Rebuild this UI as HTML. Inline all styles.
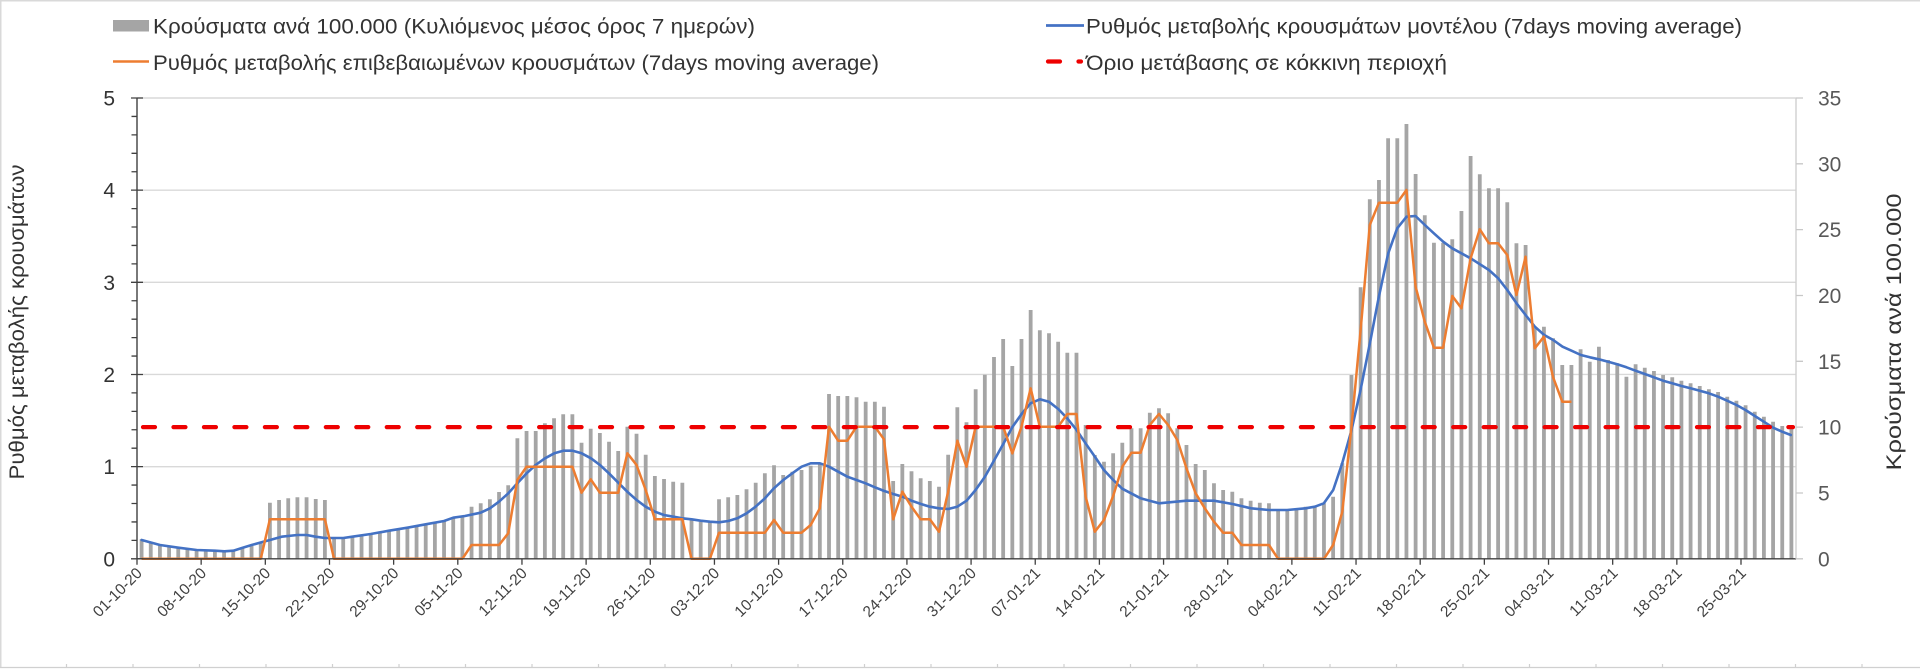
<!DOCTYPE html>
<html><head><meta charset="utf-8"><style>
html,body{margin:0;padding:0;background:#fff;width:1920px;height:670px;overflow:hidden}
svg{display:block}
</style></head><body>
<svg width="1920" height="670" viewBox="0 0 1920 670" xmlns="http://www.w3.org/2000/svg" font-family="'Liberation Sans', Arial, sans-serif">
<rect width="1920" height="670" fill="#fff"/>
<!-- frame -->
<path d="M0.75 0V668M0 0.75H1920" stroke="#d9d9d9" stroke-width="1.5" fill="none"/>
<path d="M0 667.5H1920M66.5 664v4M133 664v4M199.5 664v4M266 664v4M332.5 664v4M399 664v4M465.5 664v4M532 664v4M598.5 664v4M665 664v4M731.5 664v4M798 664v4M864.5 664v4M931 664v4M997.5 664v4M1064 664v4M1130.5 664v4M1197 664v4M1263.5 664v4M1330 664v4M1396.5 664v4M1463 664v4M1529.5 664v4M1596 664v4M1662.5 664v4M1729 664v4M1795.5 664v4M1862 664v4" stroke="#d0d0d0" stroke-width="1.2" fill="none"/>

<!-- gridlines -->
<path d="M137 98H1796M137 190.16H1796M137 282.32H1796M137 374.48H1796M137 466.64H1796" stroke="#d9d9d9" stroke-width="1.4" fill="none"/>

<!-- legend -->
<rect x="113" y="20" width="36" height="11.5" fill="#a5a5a5"/>
<text x="153" y="33.5" font-size="21" fill="#333" textLength="602" lengthAdjust="spacingAndGlyphs">Κρούσματα ανά 100.000 (Κυλιόμενος μέσος όρος 7 ημερών)</text>
<line x1="1046" y1="25.5" x2="1084" y2="25.5" stroke="#4472c4" stroke-width="2.75"/>
<text x="1086" y="33.5" font-size="21" fill="#333" textLength="656" lengthAdjust="spacingAndGlyphs">Ρυθμός μεταβολής κρουσμάτων μοντέλου (7days moving average)</text>
<line x1="113" y1="61.5" x2="149" y2="61.5" stroke="#ed7d31" stroke-width="2.5"/>
<text x="153" y="70" font-size="21" fill="#333" textLength="726" lengthAdjust="spacingAndGlyphs">Ρυθμός μεταβολής επιβεβαιωμένων κρουσμάτων (7days moving average)</text>
<line x1="1048" y1="61.5" x2="1081" y2="61.5" stroke="#ee0000" stroke-width="4.2" stroke-linecap="round" stroke-dasharray="12 18.47"/>
<text x="1086" y="70" font-size="21" fill="#333" textLength="361" lengthAdjust="spacingAndGlyphs">Όριο μετάβασης σε κόκκινη περιοχή</text>

<!-- data in day units -->
<g transform="translate(137 0) scale(9.1657 1)">
<path fill="none" stroke="#a5a5a5" stroke-width="3.8" vector-effect="non-scaling-stroke" d="M0.5 539.3V558.8M1.5 542.7V558.8M2.5 545V558.8M3.5 546V558.8M4.5 547.3V558.8M5.5 549V558.8M6.5 550V558.8M7.5 550.7V558.8M8.5 551V558.8M9.5 551.3V558.8M10.5 550V558.8M11.5 548.3V558.8M12.5 546V558.8M13.5 543.3V558.8M14.5 502.7V558.8M15.5 500V558.8M16.5 498.3V558.8M17.5 497.3V558.8M18.5 497.3V558.8M19.5 499V558.8M20.5 500V558.8M21.5 537.3V558.8M22.5 537.3V558.8M23.5 536.7V558.8M24.5 535.3V558.8M25.5 534V558.8M26.5 532.7V558.8M27.5 530.7V558.8M28.5 529.3V558.8M29.5 527.7V558.8M30.5 526.7V558.8M31.5 525V558.8M32.5 523.3V558.8M33.5 521.3V558.8M34.5 518.3V558.8M35.5 516V558.8M36.5 506.7V558.8M37.5 503.3V558.8M38.5 499.3V558.8M39.5 492V558.8M40.5 485.3V558.8M41.5 438.3V558.8M42.5 431V558.8M43.5 431V558.8M44.5 423.3V558.8M45.5 418.3V558.8M46.5 414.3V558.8M47.5 414.3V558.8M48.5 442.7V558.8M49.5 428.7V558.8M50.5 433V558.8M51.5 441.7V558.8M52.5 451V558.8M53.5 426.7V558.8M54.5 433.7V558.8M55.5 454.7V558.8M56.5 476V558.8M57.5 479V558.8M58.5 481.7V558.8M59.5 482.7V558.8M60.5 520V558.8M61.5 521.7V558.8M62.5 521.7V558.8M63.5 499.3V558.8M64.5 497.3V558.8M65.5 495V558.8M66.5 489.3V558.8M67.5 482.7V558.8M68.5 473.3V558.8M69.5 465.3V558.8M70.5 475V558.8M71.5 471.7V558.8M72.5 470V558.8M73.5 465.7V558.8M74.5 463.3V558.8M75.5 394V558.8M76.5 396V558.8M77.5 396V558.8M78.5 397.3V558.8M79.5 401.7V558.8M80.5 401.7V558.8M81.5 406.7V558.8M82.5 481V558.8M83.5 464V558.8M84.5 471.3V558.8M85.5 478.3V558.8M86.5 481V558.8M87.5 486.7V558.8M88.5 454.7V558.8M89.5 407.3V558.8M90.5 422.3V558.8M91.5 389.3V558.8M92.5 374.7V558.8M93.5 357V558.8M94.5 339V558.8M95.5 366V558.8M96.5 339V558.8M97.5 310V558.8M98.5 330.3V558.8M99.5 333.3V558.8M100.5 341.7V558.8M101.5 352.7V558.8M102.5 352.7V558.8M103.5 425V558.8M104.5 455V558.8M105.5 461.7V558.8M106.5 453.3V558.8M107.5 442.7V558.8M108.5 428.3V558.8M109.5 428.3V558.8M110.5 412.7V558.8M111.5 408.3V558.8M112.5 413.3V558.8M113.5 428.3V558.8M114.5 445V558.8M115.5 464V558.8M116.5 470V558.8M117.5 483.3V558.8M118.5 490V558.8M119.5 491.7V558.8M120.5 498.3V558.8M121.5 500.7V558.8M122.5 502.7V558.8M123.5 503.3V558.8M124.5 510V558.8M125.5 509.3V558.8M126.5 508.3V558.8M127.5 506.7V558.8M128.5 506V558.8M129.5 503.3V558.8M130.5 496.7V558.8M131.5 463.3V558.8M132.5 375V558.8M133.5 287.3V558.8M134.5 199.3V558.8M135.5 180V558.8M136.5 138.3V558.8M137.5 138.3V558.8M138.5 124V558.8M139.5 174V558.8M140.5 215.3V558.8M141.5 242.7V558.8M142.5 242.7V558.8M143.5 239.3V558.8M144.5 211V558.8M145.5 156V558.8M146.5 174.3V558.8M147.5 188.3V558.8M148.5 188.3V558.8M149.5 202.3V558.8M150.5 243.3V558.8M151.5 245V558.8M152.5 328V558.8M153.5 326.7V558.8M154.5 338.3V558.8M155.5 365V558.8M156.5 365V558.8M157.5 349.3V558.8M158.5 361.7V558.8M159.5 346.7V558.8M160.5 360V558.8M161.5 363.3V558.8M162.5 376.7V558.8M163.5 364.3V558.8M164.5 367.7V558.8M165.5 371V558.8M166.5 375V558.8M167.5 377.3V558.8M168.5 380.7V558.8M169.5 383.3V558.8M170.5 386V558.8M171.5 389.3V558.8M172.5 392V558.8M173.5 396.7V558.8M174.5 400.7V558.8M175.5 405.3V558.8M176.5 411.7V558.8M177.5 416.7V558.8M178.5 421.7V558.8M179.5 426V558.8M180.5 428.3V558.8"/>

<polyline fill="none" stroke="#4472c4" stroke-width="2.6" stroke-linejoin="round" stroke-linecap="round" vector-effect="non-scaling-stroke" points="0.51,540 2.51,545 4.51,547.7 6.51,550 8.51,550.7 9.53,551.3 10.51,550.7 11.53,547.7 12.51,545 13.78,541.7 14.51,540 15.78,536.7 17.49,535 18.51,535 19.49,536.7 20.51,538 21.49,538 22.51,538 23.49,536.7 25.5,534 27.5,530.7 29.5,527.7 31.5,524.3 33.5,521 34.5,517.7 35.78,516 37.49,512.7 38.51,508.3 39.49,501.7 40.51,493.3 41.49,483.3 42.51,473.3 43.49,465 44.51,458.3 45.53,453.3 46.51,450.7 47.53,450.7 48.51,453.3 49.53,458.3 50.51,465 51.49,473.3 52.51,482.7 53.49,491.7 54.51,500 55.49,506.7 56.51,511.7 57.49,515 58.51,516.7 59.49,518.3 60.51,519.3 61.49,520.7 62.51,521.7 63.49,522.3 64.51,521 65.49,518.3 66.51,513.3 67.49,506.7 68.51,498.3 69.49,488.3 70.51,480 71.49,473.3 72.51,466.7 73.5,463.3 74.51,463.3 75.5,466.7 76.5,471.7 77.5,476.7 78.5,480 79.49,483.3 80.51,487.3 81.53,491 82.51,494 83.53,496.7 84.51,500.7 85.53,504 86.51,506.7 87.49,508.3 88.51,509 89.49,506.7 90.51,500.7 91.49,490 92.51,476.7 93.49,460.7 94.51,444 95.49,427.3 96.51,414 97.49,403.3 98.51,399.3 99.49,401.7 100.51,409 101.49,418.3 102.51,430 103.49,443.3 104.51,456.7 105.49,470 106.51,480 107.49,488.7 109.5,498.3 111.5,503.3 114.5,500.7 117.5,500.7 119.53,504 121.53,508.3 123.49,510 125.49,510 127.49,508.3 128.51,506.7 129.49,503.3 130.51,490 131.49,463.3 132.51,430 133.49,390 134.51,343.3 135.49,296.7 136.51,253.3 137.49,228.3 138.51,216.7 139.49,216 140.51,225 141.49,233.3 142.51,241.7 143.49,248.3 145.5,258.3 147.5,270 148.51,278.3 149.5,290 150.51,303.3 151.5,315 152.51,326.7 153.53,335 154.51,340 155.53,346.7 156.51,350.7 157.53,355 158.51,357.3 159.49,359.3 160.51,361.7 161.49,364.3 162.51,367.3 163.49,370.7 164.51,374 165.49,377.3 166.51,380.7 167.49,383.3 168.51,386 169.49,388.3 170.51,390.7 171.49,393.3 172.51,396.7 173.49,400.7 174.51,405 175.49,410 176.51,416 177.49,421.7 178.51,427.7 179.49,431.7 180.43,435"/>

<polyline fill="none" stroke="#ed7d31" stroke-width="2.5" stroke-linejoin="round" vector-effect="non-scaling-stroke" points="0.5,558.8 13.5,558.8 14.5,519.3 20.5,519.3 21.5,558.8 35.5,558.8 36.5,545 39.5,545 40.5,533.3 41.5,480 42.5,466.7 47.5,466.7 48.5,492.7 49.5,479.3 50.5,492.7 52.5,492.7 53.5,453.3 54.5,465 55.5,490 56.5,519.3 59.5,519.3 60.5,558.8 62.5,558.8 63.5,532.7 68.5,532.7 69.5,520 70.5,532.7 72.5,532.7 73.5,525 74.5,508.3 75.5,426.7 76.5,440.7 77.5,440.7 78.5,426.7 80.5,426.7 81.5,439.3 82.5,519.3 83.5,491.7 84.5,506.7 85.5,519.3 86.5,519.3 87.5,531.7 88.5,491.7 89.5,440.7 90.5,466.7 91.5,426.7 94.5,426.7 95.5,453.3 96.5,426.7 97.5,388.3 98.5,426.7 100.5,426.7 101.5,414 102.5,414 103.5,496.7 104.5,531.7 105.5,520 106.5,496 107.5,466.7 108.5,452.7 109.5,452.7 110.5,425 111.5,414 112.5,425 113.5,440 114.5,468.3 115.5,493.3 116.5,508.3 117.5,521.7 118.5,532.7 119.5,532.7 120.5,545 123.5,545 124.5,558.8 129.5,558.8 130.5,545 131.5,511.7 132.5,426.7 133.5,330 134.5,225 135.5,202.7 137.5,202.7 138.5,190 139.5,286.7 140.5,321.7 141.5,347.7 142.5,347.7 143.5,296 144.5,308.3 145.5,258.3 146.5,229.3 147.5,243.3 148.5,243.3 149.5,255 150.5,295 151.5,256.7 152.5,348.3 153.5,336.7 154.5,377.3 155.5,401.7 156.5,401.7"/>

<!-- x ticks -->
<path fill="none" stroke="#404040" stroke-width="1.3" vector-effect="non-scaling-stroke" d="M0 558.8v6M7 558.8v6M14 558.8v6M21 558.8v6M28 558.8v6M35 558.8v6M42 558.8v6M49 558.8v6M56 558.8v6M63 558.8v6M70 558.8v6M77 558.8v6M84 558.8v6M91 558.8v6M98 558.8v6M105 558.8v6M112 558.8v6M119 558.8v6M126 558.8v6M133 558.8v6M140 558.8v6M147 558.8v6M154 558.8v6M161 558.8v6M168 558.8v6M175 558.8v6"/>
</g>

<!-- red threshold -->
<line x1="143" y1="427.1" x2="1793" y2="427.1" stroke="#ee0000" stroke-width="4.2" stroke-linecap="round" stroke-dasharray="12 18.47"/>

<!-- axes -->
<line x1="137" y1="558.8" x2="1796" y2="558.8" stroke="#404040" stroke-width="1.4"/>
<line x1="137" y1="98" x2="137" y2="559.5" stroke="#404040" stroke-width="1.4"/>
<path fill="none" stroke="#404040" stroke-width="1.3" d="M131 558.8H143M131 466.64H143M131 374.48H143M131 282.32H143M131 190.16H143M131 98H143M131.5 540.37H137M131.5 521.94H137M131.5 503.5H137M131.5 485.07H137M131.5 448.21H137M131.5 429.78H137M131.5 411.34H137M131.5 392.91H137M131.5 356.05H137M131.5 337.62H137M131.5 319.18H137M131.5 300.75H137M131.5 263.89H137M131.5 245.46H137M131.5 227.02H137M131.5 208.59H137M131.5 171.73H137M131.5 153.3H137M131.5 134.86H137M131.5 116.43H137"/>
<line x1="1796" y1="98" x2="1796" y2="558.8" stroke="#d0d0d0" stroke-width="1.4"/>
<path fill="none" stroke="#c8c8c8" stroke-width="1.3" d="M1796 558.8h7M1796 492.97h7M1796 427.14h7M1796 361.31h7M1796 295.49h7M1796 229.66h7M1796 163.83h7M1796 98h7"/>

<!-- left labels -->
<g font-size="21" fill="#333" text-anchor="end">
<text x="115" y="105.5">5</text>
<text x="115" y="197.7">4</text>
<text x="115" y="289.8">3</text>
<text x="115" y="382">2</text>
<text x="115" y="474.1">1</text>
<text x="115" y="566.3">0</text>
</g>
<!-- right labels -->
<g font-size="21" fill="#595959">
<text x="1818" y="105.5">35</text>
<text x="1818" y="171.3">30</text>
<text x="1818" y="237.2">25</text>
<text x="1818" y="303">20</text>
<text x="1818" y="368.8">15</text>
<text x="1818" y="434.6">10</text>
<text x="1818" y="500.5">5</text>
<text x="1818" y="566.3">0</text>
</g>

<!-- axis titles -->
<text transform="translate(24 322) rotate(-90)" text-anchor="middle" font-size="21" fill="#333" textLength="315" lengthAdjust="spacingAndGlyphs">Ρυθμός μεταβολής κρουσμάτων</text>
<text transform="translate(1901 332) rotate(-90)" text-anchor="middle" font-size="21" fill="#333" textLength="277" lengthAdjust="spacingAndGlyphs">Κρούσματα ανά 100.000</text>

<!-- x labels -->
<g font-size="15.5" fill="#404040" text-anchor="end">
<text transform="translate(143 574) rotate(-45)">01-10-20</text>
<text transform="translate(207.2 574) rotate(-45)">08-10-20</text>
<text transform="translate(271.3 574) rotate(-45)">15-10-20</text>
<text transform="translate(335.5 574) rotate(-45)">22-10-20</text>
<text transform="translate(399.6 574) rotate(-45)">29-10-20</text>
<text transform="translate(463.8 574) rotate(-45)">05-11-20</text>
<text transform="translate(528 574) rotate(-45)">12-11-20</text>
<text transform="translate(592.1 574) rotate(-45)">19-11-20</text>
<text transform="translate(656.3 574) rotate(-45)">26-11-20</text>
<text transform="translate(720.4 574) rotate(-45)">03-12-20</text>
<text transform="translate(784.6 574) rotate(-45)">10-12-20</text>
<text transform="translate(848.8 574) rotate(-45)">17-12-20</text>
<text transform="translate(912.9 574) rotate(-45)">24-12-20</text>
<text transform="translate(977.1 574) rotate(-45)">31-12-20</text>
<text transform="translate(1041.2 574) rotate(-45)">07-01-21</text>
<text transform="translate(1105.4 574) rotate(-45)">14-01-21</text>
<text transform="translate(1169.6 574) rotate(-45)">21-01-21</text>
<text transform="translate(1233.7 574) rotate(-45)">28-01-21</text>
<text transform="translate(1297.9 574) rotate(-45)">04-02-21</text>
<text transform="translate(1362 574) rotate(-45)">11-02-21</text>
<text transform="translate(1426.2 574) rotate(-45)">18-02-21</text>
<text transform="translate(1490.4 574) rotate(-45)">25-02-21</text>
<text transform="translate(1554.5 574) rotate(-45)">04-03-21</text>
<text transform="translate(1618.7 574) rotate(-45)">11-03-21</text>
<text transform="translate(1682.8 574) rotate(-45)">18-03-21</text>
<text transform="translate(1747 574) rotate(-45)">25-03-21</text>
</g>
</svg>
</body></html>
